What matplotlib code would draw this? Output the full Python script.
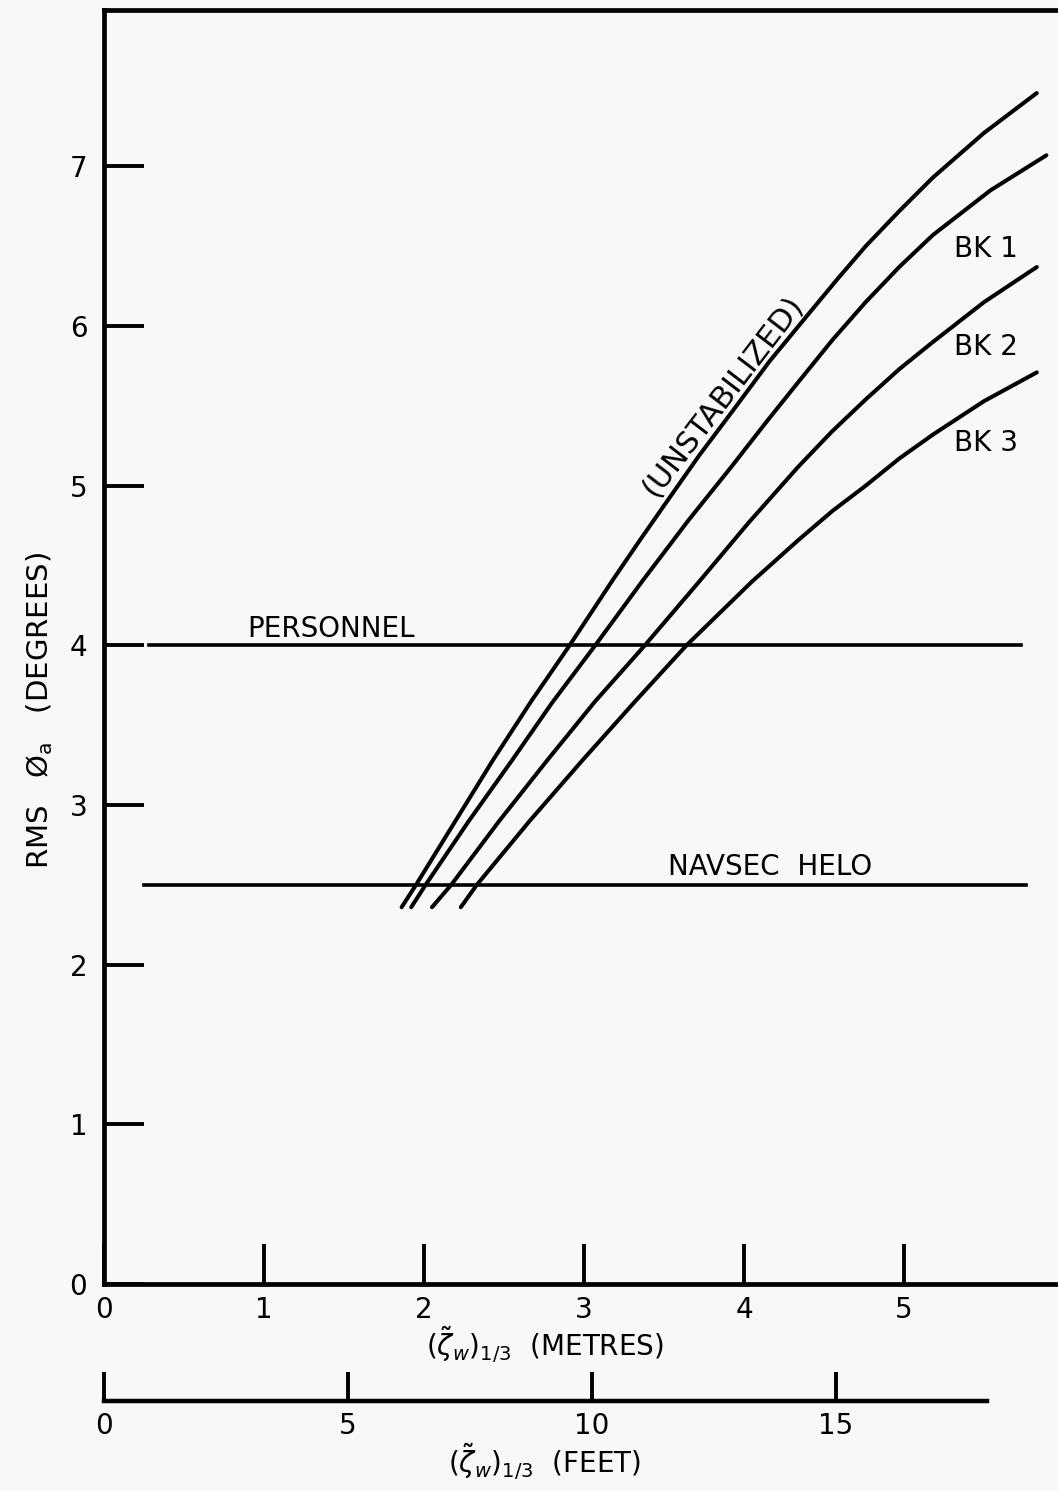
import matplotlib
matplotlib.use('Agg')
import matplotlib.pyplot as plt

plt.rcParams['font.family'] = ['DejaVu Sans']

# curves: wave height (m) vs RMS roll (deg)
unstab_x = [1.86, 1.95, 2.19, 2.43, 2.67, 2.91, 3.18, 3.35, 3.51, 3.72, 3.93,
            4.16, 4.39, 4.58, 4.76, 4.97, 5.18, 5.50, 5.83]
unstab_y = [2.36, 2.50, 2.89, 3.28, 3.65, 4.00, 4.41, 4.66, 4.89, 5.19, 5.47,
            5.78, 6.06, 6.29, 6.50, 6.72, 6.93, 7.21, 7.46]

bk1_x = [1.92, 2.01, 2.28, 2.55, 2.80, 3.07, 3.37, 3.65, 3.93, 4.14, 4.34,
         4.55, 4.76, 4.97, 5.18, 5.54, 5.89]
bk1_y = [2.36, 2.50, 2.90, 3.28, 3.64, 4.00, 4.41, 4.78, 5.13, 5.40, 5.65,
         5.91, 6.15, 6.37, 6.57, 6.85, 7.07]

bk2_x = [2.05, 2.17, 2.47, 2.77, 3.07, 3.38, 3.72, 4.03, 4.34, 4.55, 4.76,
         4.97, 5.18, 5.50, 5.83]
bk2_y = [2.36, 2.50, 2.90, 3.28, 3.65, 4.00, 4.40, 4.77, 5.12, 5.34, 5.54,
         5.73, 5.90, 6.15, 6.37]

bk3_x = [2.23, 2.33, 2.66, 2.99, 3.32, 3.64, 4.05, 4.34, 4.55, 4.76, 4.97,
         5.18, 5.50, 5.83]
bk3_y = [2.36, 2.50, 2.90, 3.28, 3.65, 4.00, 4.40, 4.66, 4.84, 5.00, 5.17,
         5.32, 5.53, 5.71]

# criteria lines
personnel_y = 4.0
personnel_x = [0.28, 5.73]
navsec_y = 2.5
navsec_x = [0.25, 5.76]

yticks = [0, 1, 2, 3, 4, 5, 6, 7]
xticks_m = [0, 1, 2, 3, 4, 5]
xticks_ft = [0, 5, 10, 15]
ft_end = 18.1
M_PER_FT = 0.3048

xmax = 5.9625
ymax = 7.98

fig = plt.figure(figsize=(10.58, 14.91), dpi=100)
bg = '#f8f8f8'
fig.patch.set_facecolor(bg)

left = 104 / 1058
bottom = 1 - 1284 / 1491
top = 1 - 10 / 1491
ax = fig.add_axes([left, bottom, 1 - left, top - bottom])
ax.set_facecolor(bg)
ax.set_xlim(0, xmax)
ax.set_ylim(0, ymax)

for s in ['left', 'bottom', 'top']:
    ax.spines[s].set_linewidth(3.4)
ax.spines['right'].set_visible(False)

ax.set_xticks(xticks_m)
ax.set_yticks(yticks)
ax.tick_params(axis='y', direction='in', length=29, width=2.8, pad=12, labelsize=20)
ax.tick_params(axis='x', direction='in', length=29, width=2.8, pad=9, labelsize=20)

lw = 2.9
for xs, ys in [(unstab_x, unstab_y), (bk1_x, bk1_y), (bk2_x, bk2_y), (bk3_x, bk3_y)]:
    ax.plot(xs, ys, color='black', linewidth=lw, solid_capstyle='round',
            solid_joinstyle='round')

ax.plot(personnel_x, [personnel_y] * 2, color='black', linewidth=2.6)
ax.plot(navsec_x, [navsec_y] * 2, color='black', linewidth=2.6)

fs = 20
ax.text(1.42, 4.10, 'PERSONNEL', fontsize=fs, ha='center', va='center')
ax.text(4.16, 2.61, 'NAVSEC  HELO', fontsize=fs, ha='center', va='center')
ax.text(5.31, 6.48, 'BK 1', fontsize=fs, ha='left', va='center')
ax.text(5.31, 5.87, 'BK 2', fontsize=fs, ha='left', va='center')
ax.text(5.31, 5.27, 'BK 3', fontsize=fs, ha='left', va='center')
ax.text(3.87, 5.56, '(UNSTABILIZED)', fontsize=22, ha='center', va='center',
        rotation=52.5, rotation_mode='anchor')

ax.text(0.462, -0.048, r'$(\tilde{\zeta}_{w})_{1/3}$  (METRES)', fontsize=fs,
        ha='center', va='center', transform=ax.transAxes)

fig.text(40 / 1058, 1 - 710 / 1491, r'RMS   Ø$_{\mathrm{a}}$   (DEGREES)', fontsize=21,
         rotation=90, ha='center', va='center')

# feet scale underneath
ax_w = 1 - left
ft_w = ft_end * M_PER_FT / xmax * ax_w
axf = fig.add_axes([left, 1 - 1401 / 1491, ft_w, 0.0005])
axf.set_facecolor('none')
axf.set_xlim(0, ft_end)
axf.set_ylim(0, 1)
for s in ['left', 'right', 'top']:
    axf.spines[s].set_visible(False)
axf.spines['bottom'].set_linewidth(3.2)
axf.set_yticks([])
axf.set_xticks(xticks_ft)
axf.tick_params(axis='x', direction='in', length=21, width=2.8, pad=8, labelsize=20)
fig.text(544 / 1058, 1 - 1462 / 1491, r'$(\tilde{\zeta}_{w})_{1/3}$  (FEET)', fontsize=fs,
         ha='center', va='center')

fig.savefig('out.png', dpi=100, facecolor=bg)
